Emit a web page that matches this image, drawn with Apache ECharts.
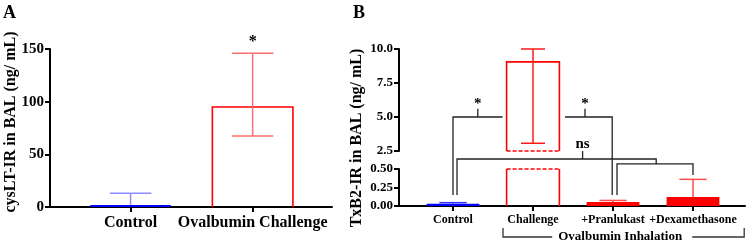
<!DOCTYPE html>
<html>
<head>
<meta charset="utf-8">
<script src="https://cdn.jsdelivr.net/npm/echarts@6/dist/echarts.min.js"></script>
<style>
html, body { margin: 0; padding: 0; background: #fff; }
#main { width: 749px; height: 243px; }
</style>
</head>
<body>
<div id="main"></div>
<script>
// panel A : cysLT
var catsA = ['Control', 'Ovalbumin Challenge'];
var meanA = [2, 95];
var lowA = [2, 67.5];
var highA = [13, 146];

// panel B : TxB2 (broken axis)
var catsB = ['Control', 'Challenge', '+Pranlukast', '+Dexamethasone'];
var meanB = [0.03, 9.05, 0.055, 0.12];
var lowB = [0.03, 3.07, 0.055, 0.12];
var highB = [0.045, 10.0, 0.075, 0.36];

var looksA = [
    {fill: '#0000ff', err: '#8c8cff'},
    {fill: null, line: '#ff0000', err: '#ff6f6f'}
];
var looksB = [
    {fill: '#0000ff', err: '#3030ff'},
    {fill: null, line: '#ff0000', err: '#ff1a1a'},
    {fill: '#ff0000', err: '#ff4d4d'},
    {fill: '#ff0000', err: '#ff4d4d'}
];

var FONT = '"Liberation Serif", "Times New Roman", serif';

function rows(means, lows, highs) {
    return means.map(function (m, i) { return [i, m, lows[i], highs[i]]; });
}

function barRenderer(looks, yMin, yMax, barFrac, capFrac) {
    return function (params, api) {
        var i = api.value(0), m = api.value(1), lo = api.value(2), hi = api.value(3);
        var look = looks[i];
        if (m <= yMin) return;
        var band = api.size([1, 0])[0];
        var hw = band * barFrac / 2, cw = band * capFrac / 2;
        var cut = m > yMax;
        var base = api.coord([i, yMin]);
        var top = api.coord([i, Math.min(m, yMax)]);
        var cx = base[0], x0 = cx - hw, x1 = cx + hw;
        var kids = [];
        if (look.fill) {
            kids.push({type: 'rect', shape: {x: x0, y: top[1], width: x1 - x0, height: base[1] - top[1]},
                style: {fill: look.fill}});
        } else {
            var solid = {stroke: look.line, lineWidth: 1.6, fill: null};
            var dashed = {stroke: look.line, lineWidth: 1.6, fill: null, lineDash: [4, 2]};
            if (cut) {
                kids.push({type: 'line', shape: {x1: x0, y1: base[1], x2: x0, y2: top[1]}, style: solid});
                kids.push({type: 'line', shape: {x1: x1, y1: base[1], x2: x1, y2: top[1]}, style: solid});
                kids.push({type: 'line', shape: {x1: x0, y1: top[1], x2: x1, y2: top[1]}, style: dashed});
            } else {
                kids.push({type: 'polyline', shape: {points: [[x0, base[1]], [x0, top[1]], [x1, top[1]], [x1, base[1]]]}, style: solid});
            }
            if (yMin > 0) {
                kids.push({type: 'line', shape: {x1: x0, y1: base[1], x2: x1, y2: base[1]}, style: dashed});
            }
        }
        // error bar
        var eLo = Math.max(lo, yMin), eHi = Math.min(hi, yMax);
        if (eHi > eLo) {
            var es = {stroke: look.err, lineWidth: 1.5};
            var pl = api.coord([i, eLo]), ph = api.coord([i, eHi]);
            kids.push({type: 'line', shape: {x1: cx, y1: pl[1], x2: cx, y2: ph[1]}, style: es});
            if (hi <= yMax) {
                kids.push({type: 'line', shape: {x1: cx - cw, y1: ph[1], x2: cx + cw, y2: ph[1]}, style: es});
            }
            if (lo < m && lo >= yMin) {
                kids.push({type: 'line', shape: {x1: cx - cw, y1: pl[1], x2: cx + cw, y2: pl[1]}, style: es});
            }
        }
        return {type: 'group', children: kids};
    };
}

var axisLine = {show: true, onZero: false, lineStyle: {color: '#000', width: 2}};
function yAx(grid, min, max, step, digits, size) {
    return {
        type: 'value', gridIndex: grid, min: min, max: max, interval: step,
        axisLine: axisLine,
        axisTick: {show: true, length: 5, lineStyle: {color: '#000', width: 2}},
        axisLabel: {color: '#000', fontFamily: FONT, fontWeight: 'bold', fontSize: size, margin: 6,
            formatter: function (v) { return v.toFixed(digits); }},
        splitLine: {show: false}
    };
}
function xAx(grid, min, max, cats, size, show) {
    var vals = cats.map(function (c, i) { return i; });
    return {
        type: 'value', gridIndex: grid, min: min, max: max, show: show,
        axisLine: axisLine,
        axisTick: {show: true, length: 5, customValues: vals, lineStyle: {color: '#000', width: 2}},
        axisLabel: {color: '#000', fontFamily: FONT, fontWeight: 'bold', fontSize: size, margin: 8,
            customValues: vals, formatter: function (v) { return cats[Math.round(v)]; }},
        splitLine: {show: false}
    };
}

var chart = echarts.init(document.getElementById('main'));

var option = {
    animation: false,
    backgroundColor: '#fff',
    grid: [
        {left: 50, top: 49, width: 282, height: 158, outerBoundsMode: 'none'},
        {left: 399, top: 49, width: 346, height: 102, outerBoundsMode: 'none'},
        {left: 399, top: 169, width: 346, height: 37, outerBoundsMode: 'none'}
    ],
    xAxis: [
        xAx(0, -0.66, 1.65, catsA, 16, true),
        xAx(1, -0.675, 3.65, catsB, 12, false),
        xAx(2, -0.675, 3.65, catsB, 12, true)
    ],
    yAxis: [
        yAx(0, 0, 150, 50, 0, 15),
        yAx(1, 2.5, 10, 2.5, 1, 13),
        yAx(2, 0, 0.5, 0.25, 2, 13)
    ],
    series: [
        {type: 'custom', xAxisIndex: 0, yAxisIndex: 0, data: rows(meanA, lowA, highA),
            renderItem: barRenderer(looksA, 0, 150, 0.66, 0.34)},
        {type: 'custom', xAxisIndex: 1, yAxisIndex: 1, data: rows(meanB, lowB, highB),
            renderItem: barRenderer(looksB, 2.5, 10, 0.66, 0.3)},
        {type: 'custom', xAxisIndex: 2, yAxisIndex: 2, data: rows(meanB, lowB, highB),
            renderItem: barRenderer(looksB, 0, 0.5, 0.66, 0.34)}
    ]
};
chart.setOption(option);

// annotations, placed through the axes
var G = {A: {gridIndex: 0}, U: {gridIndex: 1}, L: {gridIndex: 2}};
function px(p) { return chart.convertToPixel(G[p[2]], [p[0], p[1]]); }

var brackets = [
    [[0, 0.15, 'L'], [0, 5, 'U'], [0.62, 5, 'U']],
    [[1.4, 5, 'U'], [1.99, 5, 'U'], [1.99, 0.15, 'L']],
    [[0.31, 5, 'U'], [0.31, 5.6, 'U']],
    [[1.65, 5, 'U'], [1.65, 5.6, 'U']],
    [[0.05, 0.15, 'L'], [0.05, 0.635, 'L'], [2.54, 0.635, 'L'], [2.54, 0.568, 'L']],
    [[2.05, 0.15, 'L'], [2.05, 0.568, 'L'], [3.0, 0.568, 'L'], [3.0, 0.42, 'L']],
    [[1.62, 0.635, 'L'], [1.62, 2.5, 'U']]
];
var notes = [
    {text: '*', at: [1, 157, 'A'], size: 16},
    {text: '*', at: [0.31, 5.95, 'U'], size: 15},
    {text: '*', at: [1.65, 5.95, 'U'], size: 15},
    {text: 'ns', at: [1.62, 3.0, 'U'], size: 15}
];

var graphics = [];
brackets.forEach(function (b) {
    graphics.push({type: 'polyline', shape: {points: b.map(px)},
        style: {stroke: '#222', lineWidth: 1.3, fill: null}, z: 10});
});
notes.forEach(function (n) {
    var p = px(n.at);
    graphics.push({type: 'text', x: p[0], y: p[1], z: 10,
        style: {text: n.text, fill: '#000', font: 'bold ' + n.size + 'px ' + FONT,
            align: 'center', verticalAlign: 'middle'}});
});

// "Ovalbumin Inhalation" group bracket under the panel B labels
var axisY = px([0, 0, 'L'])[1];
var gx = function (v) { return px([v, 0, 'L'])[0]; };
graphics.push({type: 'polyline', shape: {points: [[gx(0.625), axisY + 22], [gx(0.625), axisY + 31], [gx(1.24), axisY + 31]]},
    style: {stroke: '#333', lineWidth: 1.3, fill: null}});
graphics.push({type: 'polyline', shape: {points: [[gx(2.99), axisY + 31], [gx(3.64), axisY + 31], [gx(3.64), axisY + 22]]},
    style: {stroke: '#333', lineWidth: 1.3, fill: null}});
graphics.push({type: 'text', x: gx(2.09), y: axisY + 31,
    style: {text: 'Ovalbumin Inhalation', fill: '#000', font: 'bold 13px ' + FONT, align: 'center', verticalAlign: 'middle'}});

// panel letters and y titles
graphics.push({type: 'text', x: 3, y: 13,
    style: {text: 'A', fill: '#000', font: 'bold 18px ' + FONT, align: 'left', verticalAlign: 'middle'}});
graphics.push({type: 'text', x: 353, y: 13,
    style: {text: 'B', fill: '#000', font: 'bold 18px ' + FONT, align: 'left', verticalAlign: 'middle'}});
graphics.push({type: 'text', x: 11, y: 122, rotation: Math.PI / 2,
    style: {text: 'cysLT-IR in BAL (ng/ mL)', fill: '#000', font: 'bold 16px ' + FONT, align: 'center', verticalAlign: 'middle'}});
graphics.push({type: 'text', x: 357, y: 138, rotation: Math.PI / 2,
    style: {text: 'TxB2-IR in BAL (ng/ mL)', fill: '#000', font: 'bold 16px ' + FONT, align: 'center', verticalAlign: 'middle'}});

chart.setOption({graphic: graphics});
</script>
</body>
</html>
